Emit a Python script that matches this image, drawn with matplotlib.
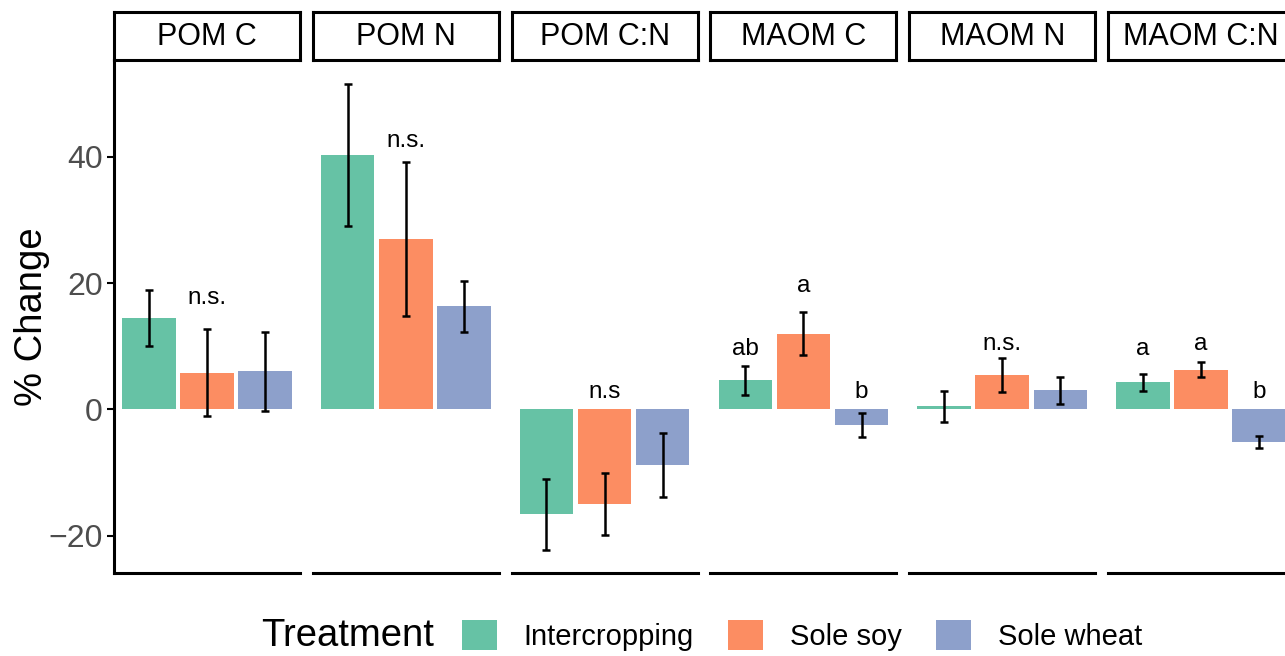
import matplotlib
matplotlib.use("Agg")
import matplotlib.pyplot as plt
from matplotlib.patches import Patch
from matplotlib.offsetbox import HPacker

plt.rcParams['font.family'] = ['Liberation Sans', 'DejaVu Sans']

facets = ["POM C", "POM N", "POM C:N", "MAOM C", "MAOM N", "MAOM C:N"]
treatments = ["Intercropping", "Sole soy", "Sole wheat"]
colors = ["#66C2A5", "#FC8D62", "#8DA0CB"]

# mean % change per facet
intercrop = [14.5, 40.3, -16.6, 4.6, 0.5, 4.3]
sole_soy = [5.8, 27.0, -15.0, 12.0, 5.5, 6.3]
sole_wheat = [6.0, 16.3, -8.8, -2.5, 3.0, -5.2]
# standard errors
intercrop_se = [4.45, 11.2, 5.65, 2.25, 2.45, 1.35]
sole_soy_se = [6.9, 12.15, 4.9, 3.4, 2.7, 1.25]
sole_wheat_se = [6.3, 4.0, 5.1, 1.95, 2.1, 0.95]

# significance letters
sig_facet = [0, 1, 2, 3, 3, 3, 4, 5, 5, 5]
sig_group = [1, 1, 1, 0, 1, 2, 1, 0, 1, 2]
sig_text = ["n.s.", "n.s.", "n.s", "ab", "a", "b", "n.s.", "a", "a", "b"]
sig_y = [17.7, 42.5, 2.7, 9.5, 19.5, 2.7, 10.3, 9.5, 10.3, 2.7]

means = [intercrop, sole_soy, sole_wheat]
ses = [intercrop_se, sole_soy_se, sole_wheat_se]

W, H = 1285, 656
fig = plt.figure(figsize=(W / 100, H / 100), dpi=100)

left0, step, pw = 114, 198.8, 186
top, bottom = 60, 573
strip_top = 12

axes = []
for i, name in enumerate(facets):
    x0 = left0 + i * step
    ax = fig.add_axes([x0 / W, (H - bottom) / H, pw / W, (bottom - top) / H])
    for j in range(3):
        ax.bar(j + 1, means[j][i], width=0.92, color=colors[j])
        ax.errorbar(j + 1, means[j][i], yerr=ses[j][i], fmt='none',
                    ecolor='black', elinewidth=1.8, capsize=2.8, capthick=1.8)
    ax.set_xlim(0.4, 3.6)
    ax.set_ylim(-25.9, 55.3)
    ax.set_xticks([])
    for s in ['top', 'right']:
        ax.spines[s].set_visible(False)
    ax.spines['bottom'].set_linewidth(2.2)
    if i == 0:
        ax.spines['left'].set_linewidth(2.2)
        ax.set_yticks([-20, 0, 20, 40])
        ax.set_yticklabels(["\u221220", "0", "20", "40"])
        ax.tick_params(axis='y', labelsize=23, labelcolor='#4D4D4D',
                       length=5, width=1.5, pad=3)
        ax.set_ylabel("% Change", fontsize=27.5, labelpad=-1)
    else:
        ax.spines['left'].set_visible(False)
        ax.set_yticks([])
    axes.append(ax)

    # facet strip
    sax = fig.add_axes([x0 / W, (H - top) / H, pw / W, (top - strip_top) / H])
    sax.set_xticks([])
    sax.set_yticks([])
    for s in sax.spines.values():
        s.set_linewidth(2.2)
    sax.text(0.5, 0.47, name, ha='center', va='center', fontsize=22,
             transform=sax.transAxes)

for f, g, t, y in zip(sig_facet, sig_group, sig_text, sig_y):
    axes[f].text(g + 1, y, t, ha='center', va='center', fontsize=17.5)

handles = [Patch(facecolor=c, edgecolor='none') for c in colors]
leg = fig.legend(handles, treatments, loc='center', bbox_to_anchor=(0.546, 0.031),
                 ncol=3, frameon=False, fontsize=21, title="Treatment",
                 handlelength=1.2, handleheight=1.2, handletextpad=0.9,
                 columnspacing=1.2)
leg.get_title().set_fontsize(27.5)
# put the title on the same row as the keys
box = leg._legend_box
children = box.get_children()
box._children = [HPacker(children=children, pad=0, sep=20, align='center')]

fig.savefig("out.png", dpi=100)
